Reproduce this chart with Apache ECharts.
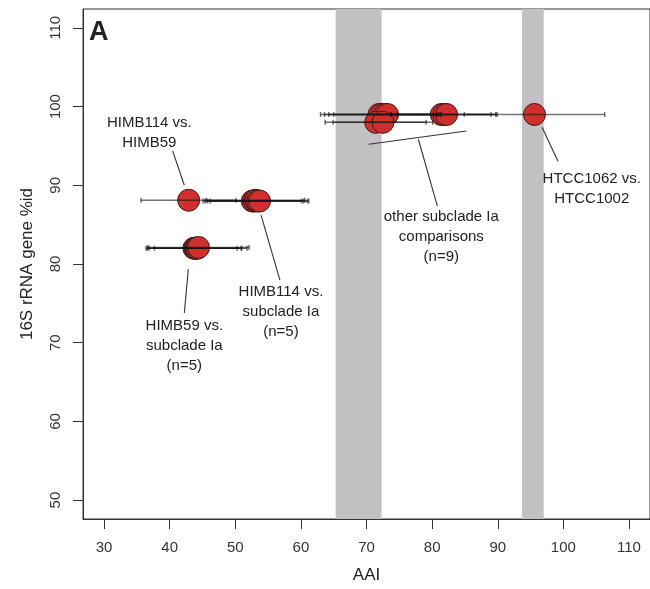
<!DOCTYPE html>
<html>
<head>
<meta charset="utf-8">
<script src="https://cdn.jsdelivr.net/npm/echarts@6/dist/echarts.min.js"></script>
<style>html,body{margin:0;padding:0;background:#fff;}#c{width:650px;height:589px;}</style>
</head>
<body>
<div id="c"></div>
<script>
// ---- data ----
const xTicks = [30, 40, 50, 60, 70, 80, 90, 100, 110];
const yTicks = [50, 60, 70, 80, 90, 100, 110];
const bandStart = [65.3, 93.7];
const bandEnd = [72.3, 97.0];
// comparisons: AAI mean, 16S %id, AAI error (half width)
const aai   = [42.9, 52.6, 52.9, 53.1, 53.4, 53.7, 43.7, 43.9, 44.0, 44.2, 44.4, 71.9, 72.3, 72.8, 73.2, 71.4, 72.5, 81.4, 81.8, 82.2, 95.6];
const rrna  = [88.1, 88.0, 88.0, 88.1, 88.0, 88.0, 82.0, 82.0, 82.0, 82.0, 82.1, 99.0, 99.0, 99.0, 99.0, 98.0, 98.0, 99.0, 99.0, 99.0, 99.0];
const aaiErr= [7.25, 7.5, 7.5, 7.5, 7.6, 7.5, 7.3, 7.0, 6.3, 7.6, 7.7, 8.9, 8.7, 8.55, 8.2, 7.7, 7.6, 7.6, 8.1, 7.5, 10.7];
// annotations (data coordinates)
const noteText = ['HIMB114 vs.\nHIMB59', 'HIMB59 vs.\nsubclade Ia\n(n=5)', 'HIMB114 vs.\nsubclade Ia\n(n=5)', 'other subclade Ia\ncomparisons\n(n=9)', 'HTCC1062 vs.\nHTCC1002'];
const noteX = [36.9, 42.24, 56.96, 81.4, 104.33];
const noteY = [96.6, 69.6, 73.9, 83.5, 89.5];
const leaderX1 = [40.46, 42.85, 53.93, 70.33, 77.9, 96.75];
const leaderY1 = [94.37, 79.35, 86.2, 95.22, 95.85, 97.37];
const leaderX2 = [42.24, 42.24, 56.81, 85.21, 80.8, 99.18];
const leaderY2 = [90.0, 73.77, 77.96, 96.9, 87.35, 93.06];

// ---- build ----
const FONT = 'Liberation Sans, Arial, sans-serif';
const pts = aai.map((v, i) => [v, rrna[i], aaiErr[i]]);
const notes = noteText.map((t, i) => [noteX[i], noteY[i], i]);
const leaders = leaderX1.map((v, i) => [v, leaderY1[i], leaderX2[i], leaderY2[i]]);
const bands = bandStart.map((s, i) => [{xAxis: s}, {xAxis: bandEnd[i]}]);

const chart = echarts.init(document.getElementById('c'), null, {renderer: 'canvas'});
chart.setOption({
  animation: false,
  backgroundColor: '#fff',
  grid: {left: 83, top: 9, right: -2, bottom: 69, show: true, borderColor: '#333', borderWidth: 1, containLabel: false},
  xAxis: {
    type: 'value', min: 26.8, max: 113.2,
    name: 'AAI', nameLocation: 'middle', nameGap: 48,
    nameTextStyle: {fontSize: 17, color: '#222', fontFamily: FONT},
    axisLine: {show: true, onZero: false, lineStyle: {color: '#333', width: 1}},
    axisTick: {show: true, length: 10, lineStyle: {color: '#333'}, customValues: xTicks},
    axisLabel: {fontSize: 15, color: '#333', fontFamily: FONT, margin: 21, customValues: xTicks},
    splitLine: {show: false}
  },
  yAxis: {
    type: 'value', min: 47.6, max: 112.4,
    name: '16S rRNA gene %id', nameLocation: 'middle', nameGap: 47,
    nameTextStyle: {fontSize: 17, color: '#222', fontFamily: FONT},
    axisLine: {show: true, onZero: false, lineStyle: {color: '#333', width: 1}},
    axisTick: {show: true, length: 10, lineStyle: {color: '#333'}, customValues: yTicks},
    axisLabel: {fontSize: 15, color: '#333', fontFamily: FONT, margin: 20, rotate: 90, customValues: yTicks},
    splitLine: {show: false}
  },
  graphic: [{
    type: 'text', left: 89, top: 19, z: 100,
    style: {text: 'A', font: 'bold 27px ' + FONT, fill: '#222'}
  }],
  series: [
    {
      type: 'scatter', data: pts, z: 2,
      symbol: 'circle', symbolSize: 22,
      itemStyle: {color: '#d12e2e', borderColor: '#3a1c1c', borderWidth: 1, opacity: 1},
      markArea: {silent: true, itemStyle: {color: '#c3c1c3'}, data: bands, z: 1}
    },
    {
      type: 'custom', data: pts, z: 3,
      renderItem: function (params, api) {
        const x = api.value(0), y = api.value(1), e = api.value(2);
        const a = api.coord([x - e, y]), b = api.coord([x + e, y]);
        const st = {stroke: 'rgba(20,20,20,0.6)', lineWidth: 1.5};
        return {type: 'group', children: [
          {type: 'line', shape: {x1: a[0], y1: a[1], x2: b[0], y2: b[1]}, style: st},
          {type: 'line', shape: {x1: a[0], y1: a[1] - 2.5, x2: a[0], y2: a[1] + 2.5}, style: st},
          {type: 'line', shape: {x1: b[0], y1: b[1] - 2.5, x2: b[0], y2: b[1] + 2.5}, style: st}
        ]};
      }
    },
    {
      type: 'custom', data: leaders, z: 4,
      renderItem: function (params, api) {
        const a = api.coord([api.value(0), api.value(1)]), b = api.coord([api.value(2), api.value(3)]);
        return {type: 'line', shape: {x1: a[0], y1: a[1], x2: b[0], y2: b[1]}, style: {stroke: '#333', lineWidth: 1.1}};
      }
    },
    {
      type: 'custom', data: notes, z: 5,
      renderItem: function (params, api) {
        const p = api.coord([api.value(0), api.value(1)]);
        return {type: 'text', x: p[0], y: p[1], style: {
          text: noteText[params.dataIndex], fill: '#222', font: '15px ' + FONT,
          align: 'center', verticalAlign: 'middle', lineHeight: 20
        }};
      }
    }
  ]
});
</script>
</body>
</html>
